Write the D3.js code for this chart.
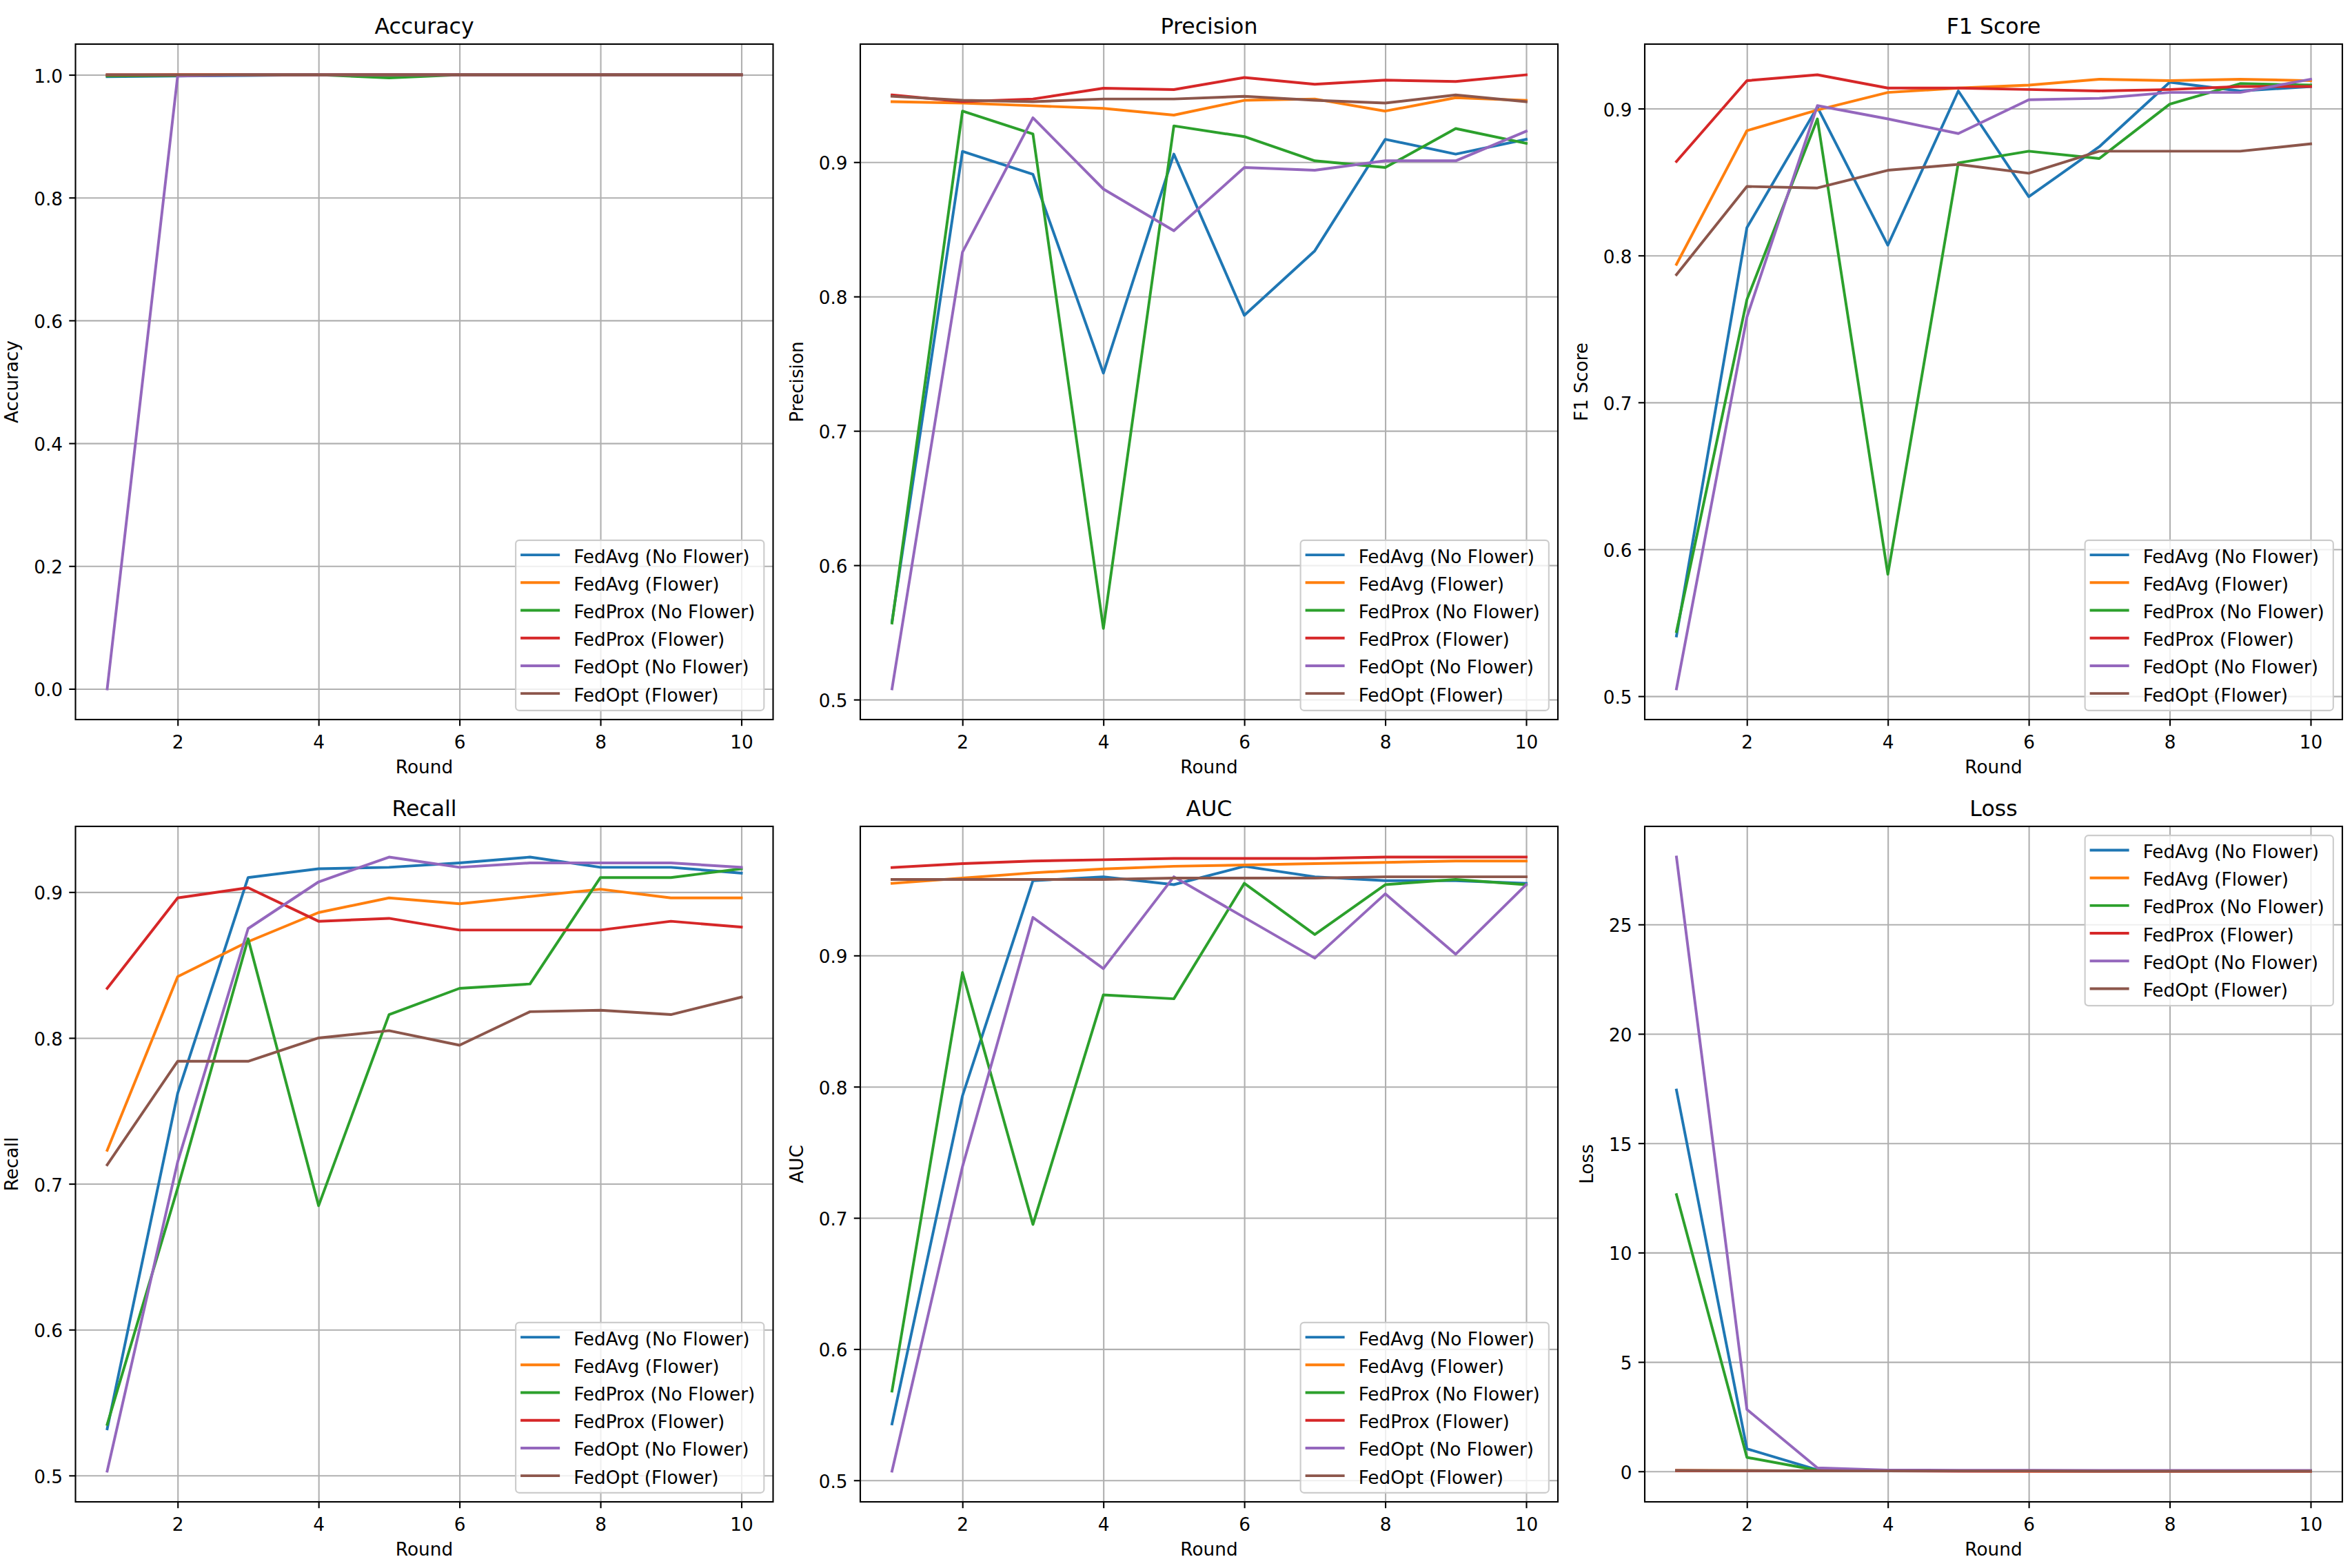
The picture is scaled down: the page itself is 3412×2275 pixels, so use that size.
<!DOCTYPE html>
<html>
<head>
<meta charset="utf-8">
<script src="https://cdn.jsdelivr.net/npm/d3@7"></script>
<style>
  body { margin: 0; background: #fff; }
  svg { display: block; font-family: "DejaVu Sans", sans-serif; }
</style>
</head>
<body>
<svg id="chart" width="3412" height="2275"></svg>
<script>
const rounds = [1, 2, 3, 4, 5, 6, 7, 8, 9, 10];

const seriesNames = [
    "FedAvg (No Flower)",
    "FedAvg (Flower)",
    "FedProx (No Flower)",
    "FedProx (Flower)",
    "FedOpt (No Flower)",
    "FedOpt (Flower)"
];

const seriesColors = ["#1f77b4", "#ff7f0e", "#2ca02c", "#d62728", "#9467bd", "#8c564b"];

// one row per series, same order as seriesNames
const accuracy = [
    [0.997, 0.998, 0.999, 1.0, 1.0, 1.0, 1.0, 1.0, 1.0, 1.0],
    [0.999, 1.0, 1.0, 1.0, 1.0, 1.0, 1.0, 1.0, 1.0, 1.0],
    [0.998, 0.999, 1.0, 1.0, 0.995, 1.0, 1.0, 1.0, 1.0, 1.0],
    [1.0, 1.0, 1.0, 1.0, 1.0, 1.0, 1.0, 1.0, 1.0, 1.0],
    [0.0, 0.998, 1.0, 1.0, 1.0, 1.0, 1.0, 1.0, 1.0, 1.0],
    [1.0, 1.0, 1.0, 1.0, 1.0, 1.0, 1.0, 1.0, 1.0, 1.0]
];

const precision = [
    [0.558, 0.908, 0.891, 0.743, 0.906, 0.786, 0.834, 0.917, 0.906, 0.917],
    [0.945, 0.944, 0.942, 0.940, 0.935, 0.946, 0.947, 0.938, 0.948, 0.946],
    [0.557, 0.938, 0.921, 0.553, 0.927, 0.919, 0.901, 0.896, 0.925, 0.914],
    [0.950, 0.945, 0.947, 0.955, 0.954, 0.963, 0.958, 0.961, 0.960, 0.965],
    [0.508, 0.833, 0.933, 0.880, 0.849, 0.896, 0.894, 0.901, 0.901, 0.923],
    [0.949, 0.946, 0.945, 0.947, 0.947, 0.949, 0.946, 0.944, 0.950, 0.945]
];

const f1Score = [
    [0.541, 0.819, 0.901, 0.807, 0.912, 0.840, 0.874, 0.918, 0.912, 0.915],
    [0.794, 0.885, 0.899, 0.911, 0.914, 0.916, 0.920, 0.919, 0.920, 0.919],
    [0.544, 0.770, 0.893, 0.583, 0.863, 0.871, 0.866, 0.903, 0.917, 0.916],
    [0.864, 0.919, 0.923, 0.914, 0.914, 0.913, 0.912, 0.913, 0.915, 0.915],
    [0.505, 0.758, 0.902, 0.893, 0.883, 0.906, 0.907, 0.911, 0.911, 0.920],
    [0.787, 0.847, 0.846, 0.858, 0.862, 0.856, 0.871, 0.871, 0.871, 0.876]
];

const recall = [
    [0.532, 0.762, 0.910, 0.916, 0.917, 0.920, 0.924, 0.917, 0.917, 0.913],
    [0.723, 0.842, 0.866, 0.886, 0.896, 0.892, 0.897, 0.902, 0.896, 0.896],
    [0.535, 0.697, 0.868, 0.685, 0.816, 0.834, 0.837, 0.910, 0.910, 0.916],
    [0.834, 0.896, 0.903, 0.880, 0.882, 0.874, 0.874, 0.874, 0.880, 0.876],
    [0.503, 0.715, 0.875, 0.907, 0.924, 0.917, 0.920, 0.920, 0.920, 0.917],
    [0.713, 0.784, 0.784, 0.800, 0.805, 0.795, 0.818, 0.819, 0.816, 0.828]
];

const auc = [
    [0.543, 0.793, 0.957, 0.960, 0.954, 0.968, 0.960, 0.957, 0.957, 0.955],
    [0.955, 0.959, 0.963, 0.966, 0.968, 0.969, 0.970, 0.971, 0.972, 0.972],
    [0.568, 0.887, 0.695, 0.870, 0.867, 0.955, 0.916, 0.954, 0.958, 0.954],
    [0.967, 0.970, 0.972, 0.973, 0.974, 0.974, 0.974, 0.975, 0.975, 0.975],
    [0.507, 0.739, 0.929, 0.890, 0.960, 0.929, 0.898, 0.947, 0.901, 0.954],
    [0.958, 0.958, 0.958, 0.958, 0.959, 0.959, 0.959, 0.960, 0.960, 0.960]
];

const loss = [
    [17.43, 1.03, 0.07, 0.03, 0.02, 0.02, 0.02, 0.02, 0.02, 0.02],
    [0.04, 0.03, 0.02, 0.02, 0.02, 0.01, 0.01, 0.01, 0.01, 0.01],
    [12.65, 0.64, 0.05, 0.03, 0.02, 0.02, 0.02, 0.02, 0.02, 0.02],
    [0.03, 0.02, 0.02, 0.02, 0.01, 0.01, 0.01, 0.01, 0.01, 0.01],
    [28.08, 2.83, 0.16, 0.06, 0.05, 0.05, 0.04, 0.04, 0.04, 0.04],
    [0.04, 0.03, 0.02, 0.02, 0.02, 0.02, 0.01, 0.01, 0.01, 0.01]
];

const roundTicks = [2, 4, 6, 8, 10];
const accuracyTicks = [0.0, 0.2, 0.4, 0.6, 0.8, 1.0];
const scoreTicks = [0.5, 0.6, 0.7, 0.8, 0.9];
const lossTicks = [0, 5, 10, 15, 20, 25];

const panels = [
    { title: "Accuracy", values: accuracy, ticks: accuracyTicks, fmt: ".1f", legend: "lower" },
    { title: "Precision", values: precision, ticks: scoreTicks, fmt: ".1f", legend: "lower" },
    { title: "F1 Score", values: f1Score, ticks: scoreTicks, fmt: ".1f", legend: "lower" },
    { title: "Recall", values: recall, ticks: scoreTicks, fmt: ".1f", legend: "lower" },
    { title: "AUC", values: auc, ticks: scoreTicks, fmt: ".1f", legend: "lower" },
    { title: "Loss", values: loss, ticks: lossTicks, fmt: "d", legend: "upper" }
];

// figure geometry (matplotlib 18x12 in figure, points -> px)
const pt = 3412 / 18 / 72;
const fontPx = 10 * pt;
const titlePx = 12 * pt;
const lineW = 1.5 * pt;
const thinW = 0.8 * pt;
const tickLen = 3.5 * pt;
const colLeft = [109.5, 1248, 2386];
const rowTop = [64, 1199];
const axW = 1012;
const axH = 980;

const svg = d3.select("#chart");
svg.append("rect").attr("width", 3412).attr("height", 2275).attr("fill", "#fff");

class Panel {
    constructor(spec, index) {
        this.spec = spec;
        this.index = index;
        this.left = colLeft[index % 3];
        this.top = rowTop[Math.floor(index / 3)];
    }

    init() {
        const spec = this.spec;
        const all = spec.values.flat();
        const lo = d3.min(all), hi = d3.max(all);
        const margin = (hi - lo) * 0.05;

        this.x = d3.scaleLinear()
            .domain([1 - 0.45, 10 + 0.45])
            .range([0, axW]);
        this.y = d3.scaleLinear()
            .domain([lo - margin, hi + margin])
            .range([axH, 0]);

        this.group = svg.append("g")
            .attr("transform", "translate(" + this.left + "," + this.top + ")");

        const clipId = "clip" + this.index;
        this.group.append("clipPath").attr("id", clipId)
            .append("rect").attr("width", axW).attr("height", axH);

        this.drawGrid();

        const lineGen = d3.line()
            .x((d, i) => this.x(rounds[i]))
            .y(d => this.y(d));

        this.group.append("g")
            .attr("clip-path", "url(#" + clipId + ")")
            .selectAll("path")
            .data(spec.values)
            .join("path")
            .attr("d", lineGen)
            .attr("fill", "none")
            .attr("stroke", (d, i) => seriesColors[i])
            .attr("stroke-width", lineW)
            .attr("stroke-linejoin", "round")
            .attr("stroke-linecap", "square");

        this.group.append("rect")
            .attr("width", axW)
            .attr("height", axH)
            .attr("fill", "none")
            .attr("stroke", "#000")
            .attr("stroke-width", thinW);

        this.drawAxes();
        this.drawLegend();
    }

    drawGrid() {
        const grid = this.group.append("g").attr("class", "grid");
        grid.append("g")
            .attr("transform", "translate(0," + axH + ")")
            .call(d3.axisBottom(this.x).tickValues(roundTicks).tickSize(-axH).tickFormat(""));
        grid.append("g")
            .call(d3.axisLeft(this.y).tickValues(this.spec.ticks).tickSize(-axW).tickFormat(""));
        grid.selectAll(".domain").remove();
        grid.selectAll("line")
            .attr("stroke", "#b0b0b0")
            .attr("stroke-width", thinW);
    }

    drawAxes() {
        const xAxis = this.group.append("g")
            .attr("transform", "translate(0," + axH + ")")
            .call(d3.axisBottom(this.x).tickValues(roundTicks).tickSize(tickLen).tickFormat(d3.format("d")));
        const yAxis = this.group.append("g")
            .call(d3.axisLeft(this.y).tickValues(this.spec.ticks).tickSize(tickLen).tickPadding(tickLen)
                .tickFormat(d3.format(this.spec.fmt)));

        [xAxis, yAxis].forEach(a => {
            a.select(".domain").remove();
            a.attr("font-family", null).attr("font-size", null);
            a.selectAll("line").attr("stroke", "#000").attr("stroke-width", thinW);
            a.selectAll("text").attr("fill", "#000").style("font-size", fontPx + "px");
        });
        xAxis.selectAll("text").attr("dy", null).attr("y", 41.5);
        yAxis.selectAll("text").attr("dy", null).attr("y", 10.5);

        const bb = yAxis.node().getBBox();

        this.group.append("text")
            .attr("x", axW / 2)
            .attr("y", -15)
            .attr("text-anchor", "middle")
            .style("font-size", titlePx + "px")
            .text(this.spec.title);

        this.group.append("text")
            .attr("x", axW / 2)
            .attr("y", axH + 78)
            .attr("text-anchor", "middle")
            .style("font-size", fontPx + "px")
            .text("Round");

        this.group.append("text")
            .attr("transform", "translate(" + (bb.x - 23) + "," + (axH / 2) + ") rotate(-90)")
            .attr("text-anchor", "middle")
            .style("font-size", fontPx + "px")
            .text(this.spec.title);
    }

    drawLegend() {
        const pad = 0.5 * fontPx;
        const legend = this.group.append("g");
        const box = legend.append("rect");

        const items = legend.selectAll("g")
            .data(seriesNames)
            .join("g");

        items.append("text")
            .attr("x", 84)
            .attr("y", (d, i) => 21.3 + i * 40.2 + 11.5)
            .style("font-size", fontPx + "px")
            .attr("fill", "#000")
            .text(d => d);

        items.append("line")
            .attr("x1", 7)
            .attr("x2", 64)
            .attr("y1", (d, i) => 21.3 + i * 40.2)
            .attr("y2", (d, i) => 21.3 + i * 40.2)
            .attr("stroke", (d, i) => seriesColors[i])
            .attr("stroke-width", lineW);

        const textW = d3.max(items.selectAll("text").nodes(), n => n.getComputedTextLength());
        const boxW = 84 + textW + 13;
        const boxH = 247;

        box.attr("width", boxW)
            .attr("height", boxH)
            .attr("rx", 5)
            .attr("fill", "#fff")
            .attr("fill-opacity", 0.8)
            .attr("stroke", "#cccccc")
            .attr("stroke-width", thinW);

        const lx = axW - pad - boxW;
        const ly = this.spec.legend === "upper" ? pad : axH - pad - boxH;
        legend.attr("transform", "translate(" + lx + "," + ly + ")");
    }
}

panels.forEach((spec, i) => {
    const panel = new Panel(spec, i);
    panel.init();
});
</script>
</body>
</html>
